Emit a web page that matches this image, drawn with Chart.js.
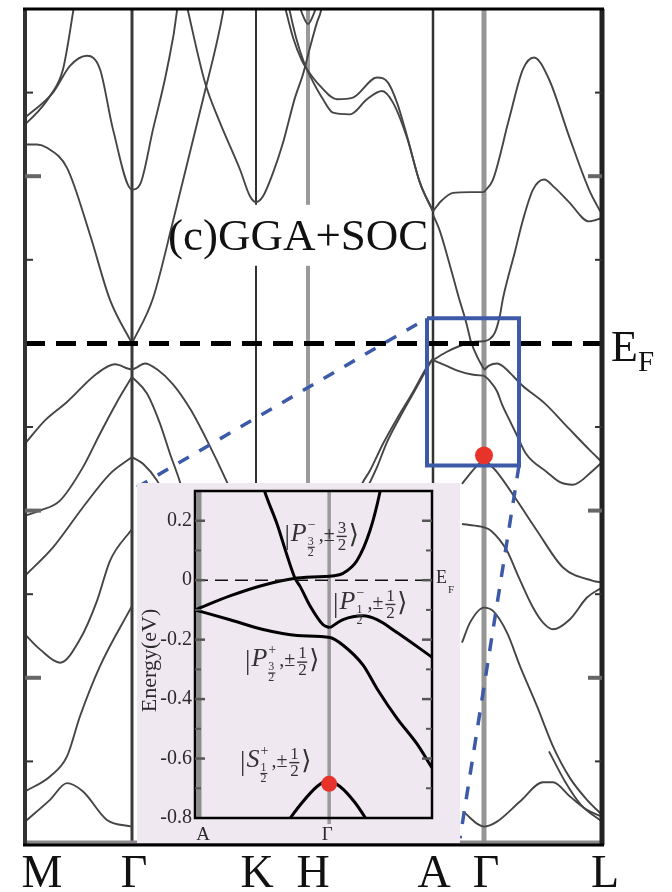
<!DOCTYPE html>
<html>
<head>
<meta charset="utf-8">
<script src="https://cdn.jsdelivr.net/npm/chart.js@4.4.1/dist/chart.umd.min.js"></script>
<style>
body { margin: 0; background: #fff; }
#wrap { position: relative; width: 672px; height: 892px; }
#main { position: absolute; left: 0; top: 0; }
#inset { position: absolute; left: 137px; top: 483px; }
</style>
</head>
<body>
<div id="wrap">
  <canvas id="main" width="672" height="892"></canvas>
  <canvas id="inset" width="323" height="360"></canvas>
</div>
<script>
// ---- main panel data (k along the path, energy in eV) ----
const kPoints = [0, 1.07, 2.31, 2.83, 4.08, 4.59, 5.77];
const kLabels = ['M', 'Γ', 'K', 'H', 'A', 'Γ', 'L'];
const kLabelAt = [0.17, 1.09, 2.32, 2.88, 4.09, 4.61, 5.80];
const mainMajorTicks = [1, -1, -2];
const mainMinorTicks = [1.5, 0.5, -0.5, -1.5, -2.5];

// M -> Γ (bands that turn smoothly at Γ continue into Γ -> K)
const bandsMG = [
  [[0, 1.31], [0.12, 1.38], [0.25, 1.48], [0.38, 1.64], [0.48, 1.98], [0.50, 2.06]],
  [[0, 1.35], [0.28, 1.50], [0.45, 1.66], [0.62, 1.72], [0.75, 1.64], [0.88, 1.28], [1.07, 0.92], [1.15, 0.95], [1.28, 1.28], [1.42, 1.64], [1.52, 1.99], [1.53, 2.06]],
  [[0, 1.19], [0.12, 1.19], [0.22, 1.17], [0.42, 1.05], [0.65, 0.65], [0.85, 0.26], [1.07, 0]],
  [[0, -0.60], [0.20, -0.46], [0.42, -0.35], [0.72, -0.18], [0.90, -0.125], [1.07, -0.155], [1.20, -0.12], [1.32, -0.155], [1.48, -0.245], [1.65, -0.39], [1.82, -0.58], [2.02, -0.83], [2.10, -0.94]],
  [[0, -1.03], [0.15, -1.0], [0.35, -0.94], [0.58, -0.74], [0.75, -0.54], [0.92, -0.35], [1.07, -0.20]],
  [[0, -1.39], [0.28, -1.22], [0.58, -0.98], [0.85, -0.78], [1.07, -0.68]],
  [[0, -1.74], [0.15, -1.83], [0.35, -1.91], [0.55, -1.77], [0.72, -1.54], [0.85, -1.30], [1.07, -1.11]],
  [[0, -2.68], [0.25, -2.59], [0.42, -2.47], [0.55, -2.23], [0.75, -1.93], [1.07, -1.57]],
  [[0, -2.86], [0.25, -2.73], [0.42, -2.63], [0.58, -2.68], [0.82, -2.85], [1.07, -2.89]]
];

// Γ -> K -> H
const bandsGK = [
  [[1.07, 0], [1.28, 0.27], [1.48, 0.73], [1.78, 1.46], [1.98, 1.98], [2.0, 2.06]],
  [[1.61, 2.04], [1.80, 1.56], [1.95, 1.32], [2.15, 1.04], [2.25, 0.88], [2.31, 0.845], [2.38, 0.88], [2.48, 1.02], [2.58, 1.20], [2.70, 1.47], [2.78, 1.61], [2.85, 1.77], [2.92, 1.92], [2.96, 1.99], [2.98, 2.06]],
  [[1.07, -0.20], [1.22, -0.30], [1.35, -0.48], [1.45, -0.66], [1.55, -0.83], [1.60, -0.94]],
  [[1.07, -0.68], [1.18, -0.72], [1.32, -0.82], [1.40, -0.91]]
];

// H -> A
const bandsHA = [
  [[2.58, 2.06], [2.68, 1.83], [2.77, 1.69], [2.82, 1.64], [2.95, 1.54], [3.12, 1.46], [3.28, 1.47], [3.52, 1.59], [3.63, 1.56], [3.72, 1.44], [3.82, 1.24], [3.95, 0.96], [4.08, 0.79]],
  [[2.62, 2.06], [2.71, 1.83], [2.79, 1.68], [2.85, 1.60], [2.98, 1.46], [3.08, 1.38], [3.25, 1.37], [3.42, 1.46], [3.57, 1.51], [3.68, 1.44], [3.82, 1.23], [3.95, 0.96], [4.08, 0.79]],
  [[2.72, 2.06], [2.78, 1.96], [2.83, 1.91], [2.88, 1.96], [2.94, 2.06]],
  [[3.30, -0.94], [3.37, -0.84], [3.45, -0.76], [3.58, -0.60], [3.72, -0.45], [3.88, -0.29], [4.02, -0.14], [4.08, -0.09]],
  [[3.36, -0.94], [3.45, -0.83], [3.52, -0.74], [3.62, -0.59], [3.75, -0.44], [3.90, -0.28], [4.02, -0.15], [4.08, -0.09]]
];

// A -> Γ
const bandsAG = [
  [[4.08, 0.79], [4.16, 0.85], [4.28, 0.90], [4.45, 0.905], [4.59, 0.905]],
  [[4.08, 0.77], [4.15, 0.67], [4.21, 0.55], [4.28, 0.40], [4.34, 0.27], [4.41, 0.13], [4.46, 0.01], [4.53, -0.09], [4.59, -0.155]],
  [[4.08, -0.10], [4.21, -0.053], [4.34, -0.017], [4.47, 0.007], [4.59, 0.013]],
  [[4.08, -0.10], [4.21, -0.133], [4.34, -0.166], [4.47, -0.186], [4.59, -0.193]],
  [[4.37, -0.84], [4.50, -0.745], [4.59, -0.69]]
];

// Γ -> L (lower bands start a little left of Γ)
const bandsGL = [
  [[4.59, 0.905], [4.68, 0.98], [4.84, 1.34], [4.98, 1.64], [5.09, 1.71], [5.24, 1.58], [5.44, 1.24], [5.64, 0.92], [5.77, 0.77]],
  [[4.59, 0.013], [4.64, 0.023], [4.70, 0.066], [4.75, 0.17], [4.78, 0.27], [4.90, 0.55], [4.98, 0.74], [5.08, 0.92], [5.19, 0.98], [5.30, 0.93], [5.44, 0.845], [5.64, 0.73], [5.77, 0.75]],
  [[4.59, -0.16], [4.64, -0.133], [4.72, -0.12], [4.77, -0.133], [4.85, -0.176], [4.97, -0.25], [5.20, -0.36], [5.44, -0.51], [5.65, -0.64], [5.77, -0.71]],
  [[4.59, -0.193], [4.64, -0.219], [4.72, -0.286], [4.77, -0.365], [4.85, -0.465], [4.92, -0.551], [5.01, -0.66], [5.22, -0.77], [5.35, -0.83], [5.48, -0.845], [5.68, -0.76], [5.77, -0.71]],
  [[4.59, -0.69], [4.72, -0.77], [4.92, -0.94], [5.12, -1.12], [5.38, -1.34], [5.68, -1.42], [5.77, -1.43]],
  [[4.37, -1.08], [4.50, -1.09], [4.59, -1.10], [4.66, -1.12], [4.82, -1.24], [4.92, -1.375], [5.08, -1.58], [5.18, -1.67], [5.28, -1.71], [5.45, -1.65], [5.62, -1.52], [5.77, -1.46]],
  [[4.37, -1.79], [4.45, -1.67], [4.59, -1.58], [4.68, -1.60], [4.82, -1.73], [4.95, -1.93], [5.12, -2.17], [5.28, -2.41], [5.45, -2.60], [5.62, -2.73], [5.77, -2.82]],
  [[5.24, -2.44], [5.40, -2.62], [5.56, -2.76], [5.77, -2.86]],
  [[4.38, -2.80], [4.59, -2.89], [4.72, -2.86], [4.95, -2.74], [5.18, -2.625], [5.28, -2.625], [5.45, -2.71], [5.62, -2.79], [5.77, -2.83]]
];

const bottomBand = [[0, -2.985], [5.77, -2.985]];
const fermiLine = [[0, 0], [5.77, 0]];
const zoomBox = [[4.02, 0.15], [4.94, 0.15], [4.94, -0.73], [4.02, -0.73], [4.02, 0.15]];
const guideLeft = [[1.12, -0.86], [4.02, 0.15]];
const guideRight = [[4.94, -0.73], [4.35, -2.96]];
const mainDot = [[4.59, -0.67]];

// ---- inset data ----
const insetKPoints = [4.08, 4.59];
const insetKLabels = ['A', 'Γ'];
const insetMajorTicks = [0.2, 0, -0.2, -0.4, -0.6];
const insetMinorTicks = [0.1, -0.1, -0.3, -0.5, -0.7];
const insetTickValues = [0.2, 0, -0.2, -0.4, -0.6, -0.8];
const insetTickLabels = ['0.2', '0', '-0.2', '-0.4', '-0.6', '-0.8'];

const insetBands = [
  [[4.335, 0.33], [4.346, 0.296], [4.392, 0.189], [4.43, 0.083], [4.46, 0.007], [4.479, -0.02], [4.517, -0.086], [4.567, -0.15], [4.593, -0.16]],
  [[4.593, -0.16], [4.643, -0.133], [4.719, -0.12], [4.772, -0.133], [4.848, -0.176], [4.981, -0.259]],
  [[4.593, 0.013], [4.643, 0.023], [4.696, 0.066], [4.745, 0.166], [4.783, 0.296], [4.79, 0.33]],
  [[4.08, -0.10], [4.213, -0.053], [4.339, -0.017], [4.468, 0.007], [4.593, 0.013]],
  [[4.08, -0.10], [4.213, -0.133], [4.339, -0.166], [4.468, -0.186], [4.593, -0.193], [4.643, -0.219], [4.719, -0.286], [4.772, -0.365], [4.848, -0.465], [4.924, -0.551], [4.981, -0.631]],
  [[4.41, -0.84], [4.479, -0.757], [4.544, -0.694], [4.586, -0.674], [4.631, -0.694], [4.688, -0.748], [4.75, -0.83]]
];
const insetFermi = [[4.08, 0], [4.981, 0]];
const insetDot = [[4.59, -0.685]];

// state labels |X^p_{j/2}, ±m/2>
const ketTexts = [
  { s: 'P', p: '−', j: '3', m: '3' },
  { s: 'P', p: '−', j: '1', m: '1' },
  { s: 'P', p: '+', j: '3', m: '1' },
  { s: 'S', p: '+', j: '1', m: '1' }
];
const ketAnchors = [[4.42, 0.153], [4.605, -0.076], [4.27, -0.27], [4.251, -0.608]];

const SERIF = "'Liberation Serif', 'DejaVu Serif', serif";
const symColor = ['#333', '#3a3a3a', '#333', '#9a9a9a', '#333', '#969696', '#222'];
const symWidth = [4, 3, 2, 4, 2.5, 5, 5];

function toXY(pts) {
  return pts.map(p => ({ x: p[0], y: p[1] }));
}

function bandSet(list, color, width, order) {
  return list.map(pts => ({
    data: toXY(pts),
    borderColor: color,
    borderWidth: width,
    pointRadius: 0,
    cubicInterpolationMode: 'monotone',
    fill: false,
    order: order
  }));
}

function plainLine(pts, color, width, dash, order) {
  return {
    data: toXY(pts),
    borderColor: color,
    borderWidth: width,
    borderDash: dash || [],
    borderCapStyle: 'butt',
    borderJoinStyle: 'miter',
    pointRadius: 0,
    tension: 0,
    fill: false,
    order: order
  };
}

function dot(pts, r, order) {
  return {
    data: toXY(pts),
    showLine: false,
    pointRadius: r,
    pointBackgroundColor: '#e8332b',
    pointBorderWidth: 0,
    order: order
  };
}

const mainDecor = {
  id: 'mainDecor',
  beforeDatasetsDraw(chart) {
    const { ctx, chartArea: a, scales: { x, y } } = chart;
    ctx.save();
    for (let i = 1; i < kPoints.length - 1; i++) {
      const px = x.getPixelForValue(kPoints[i]);
      ctx.strokeStyle = symColor[i];
      ctx.lineWidth = symWidth[i];
      ctx.beginPath();
      ctx.moveTo(px, a.top);
      ctx.lineTo(px, a.bottom);
      ctx.stroke();
    }
    // white patch behind the panel title
    const tx = x.getPixelForValue(1.43);
    const ty = y.getPixelForValue(0.56);
    ctx.fillStyle = '#fff';
    ctx.fillRect(tx + 7, ty - 45, 255, 61);
    ctx.restore();
  },
  afterDatasetsDraw(chart) {
    const { ctx, chartArea: a, scales: { x, y } } = chart;
    ctx.save();
    // frame
    ctx.strokeStyle = symColor[0];
    ctx.lineWidth = symWidth[0];
    ctx.beginPath(); ctx.moveTo(a.left, a.top); ctx.lineTo(a.left, a.bottom); ctx.stroke();
    ctx.strokeStyle = symColor[6];
    ctx.lineWidth = symWidth[6];
    ctx.beginPath(); ctx.moveTo(a.right, a.top); ctx.lineTo(a.right, a.bottom); ctx.stroke();
    ctx.strokeStyle = '#000';
    ctx.lineWidth = 3;
    ctx.beginPath(); ctx.moveTo(a.left - 2, a.top); ctx.lineTo(a.right + 2, a.top); ctx.stroke();
    ctx.beginPath(); ctx.moveTo(a.left - 2, a.bottom); ctx.lineTo(a.right + 2, a.bottom); ctx.stroke();

    // inward energy ticks on both sides
    mainMajorTicks.forEach(v => {
      const py = y.getPixelForValue(v);
      ctx.strokeStyle = '#666';
      ctx.lineWidth = 4;
      ctx.beginPath(); ctx.moveTo(a.left, py); ctx.lineTo(a.left + 16, py); ctx.stroke();
      ctx.beginPath(); ctx.moveTo(a.right, py); ctx.lineTo(a.right - 14, py); ctx.stroke();
    });
    mainMinorTicks.forEach(v => {
      const py = y.getPixelForValue(v);
      ctx.strokeStyle = '#333';
      ctx.lineWidth = 2;
      ctx.beginPath(); ctx.moveTo(a.left, py); ctx.lineTo(a.left + 8, py); ctx.stroke();
      ctx.beginPath(); ctx.moveTo(a.right, py); ctx.lineTo(a.right - 7, py); ctx.stroke();
    });

    // k-point labels
    ctx.fillStyle = '#111';
    ctx.font = `46px ${SERIF}`;
    ctx.textAlign = 'center';
    ctx.textBaseline = 'alphabetic';
    kLabels.forEach((lab, i) => {
      ctx.fillText(lab, x.getPixelForValue(kLabelAt[i]), a.bottom + 42);
    });

    // title
    ctx.textAlign = 'left';
    ctx.font = `45px ${SERIF}`;
    ctx.fillText('(c)GGA+SOC', x.getPixelForValue(1.43), y.getPixelForValue(0.56));

    // Fermi level label
    const fy = y.getPixelForValue(0);
    ctx.font = `44px ${SERIF}`;
    ctx.fillText('E', a.right + 9, fy + 18);
    ctx.font = `29px ${SERIF}`;
    ctx.fillText('F', a.right + 36, fy + 28);
    ctx.restore();
  }
};

new Chart(document.getElementById('main'), {
  type: 'line',
  data: {
    datasets: [
      ...bandSet([...bandsMG, ...bandsGK, ...bandsHA, ...bandsAG, ...bandsGL], '#454545', 1.9, 10),
      plainLine(bottomBand, '#8a8a8a', 4, null, 9),
      plainLine(fermiLine, '#000', 5, [20, 11], 5),
      plainLine(zoomBox, '#3d5aa9', 4, null, 3),
      plainLine(guideLeft, '#3d5aa9', 3.5, [12, 12], 3),
      plainLine(guideRight, '#3d5aa9', 3.5, [13, 12], 3),
      dot(mainDot, 9, 1)
    ]
  },
  options: {
    responsive: false,
    animation: false,
    devicePixelRatio: 1,
    events: [],
    layout: { padding: { left: 25, right: 70, top: 7, bottom: 47 } },
    scales: {
      x: { type: 'linear', min: 0, max: 5.77, display: false },
      y: { type: 'linear', min: -3, max: 2, display: false }
    },
    plugins: { legend: { display: false }, tooltip: { enabled: false } }
  },
  plugins: [mainDecor]
});

function drawKet(ctx, x0, yc, t) {
  const base = yc + 6;
  let x = x0;
  ctx.fillStyle = '#333';
  ctx.textAlign = 'left';
  ctx.textBaseline = 'alphabetic';
  ctx.font = `27px ${SERIF}`;
  ctx.fillText('|', x, base + 3);
  x += ctx.measureText('|').width + 1;
  ctx.font = `italic 26px ${SERIF}`;
  ctx.fillText(t.s, x, base);
  x += ctx.measureText(t.s).width;
  ctx.font = `14px ${SERIF}`;
  ctx.fillText(t.p, x + 1, base - 12);
  ctx.font = `12px ${SERIF}`;
  ctx.fillText(t.j, x + 1, base + 4);
  ctx.fillRect(x + 1, base + 6, 7, 1.2);
  ctx.fillText('2', x + 1, base + 15);
  x += 12;
  ctx.font = `20px ${SERIF}`;
  ctx.fillText(',±', x, base);
  x += ctx.measureText(',±').width + 2;
  ctx.font = `17px ${SERIF}`;
  ctx.fillText(t.m, x + 1, base - 8);
  ctx.fillRect(x, base - 5, 10, 1.4);
  ctx.fillText('2', x + 1, base + 9);
  x += 12;
  ctx.font = "26px 'DejaVu Serif', serif";
  ctx.fillText('⟩', x, base + 2);
}

const insetDecor = {
  id: 'insetDecor',
  beforeDraw(chart) {
    const { ctx, width, height } = chart;
    ctx.save();
    ctx.fillStyle = '#f0e8f1';
    ctx.fillRect(0, 0, width, height);
    ctx.restore();
  },
  beforeDatasetsDraw(chart) {
    const { ctx, chartArea: a, scales: { x } } = chart;
    ctx.save();
    ctx.strokeStyle = '#8c8c8c';
    ctx.lineWidth = 5;
    const ax = x.getPixelForValue(insetKPoints[0]);
    ctx.beginPath(); ctx.moveTo(ax + 4, a.top); ctx.lineTo(ax + 4, a.bottom); ctx.stroke();
    ctx.strokeStyle = '#9a9a9a';
    ctx.lineWidth = 3.5;
    const gx = x.getPixelForValue(insetKPoints[1]);
    ctx.beginPath(); ctx.moveTo(gx, a.top); ctx.lineTo(gx, a.bottom + 6); ctx.stroke();
    ctx.restore();
  },
  afterDatasetsDraw(chart) {
    const { ctx, chartArea: a, scales: { x, y } } = chart;
    ctx.save();
    ctx.strokeStyle = '#000';
    ctx.lineWidth = 2.5;
    ctx.strokeRect(a.left, a.top, a.right - a.left, a.bottom - a.top);

    ctx.strokeStyle = '#555';
    insetMajorTicks.forEach(v => {
      const py = y.getPixelForValue(v);
      ctx.lineWidth = 2.5;
      ctx.beginPath(); ctx.moveTo(a.left, py); ctx.lineTo(a.left + 10, py); ctx.stroke();
      ctx.beginPath(); ctx.moveTo(a.right, py); ctx.lineTo(a.right - 10, py); ctx.stroke();
    });
    insetMinorTicks.forEach(v => {
      const py = y.getPixelForValue(v);
      ctx.lineWidth = 2;
      ctx.beginPath(); ctx.moveTo(a.left, py); ctx.lineTo(a.left + 6, py); ctx.stroke();
      ctx.beginPath(); ctx.moveTo(a.right, py); ctx.lineTo(a.right - 6, py); ctx.stroke();
    });

    ctx.fillStyle = '#2a2a2a';
    ctx.font = `20px ${SERIF}`;
    ctx.textAlign = 'right';
    ctx.textBaseline = 'middle';
    insetTickValues.forEach((v, i) => {
      ctx.fillText(insetTickLabels[i], a.left - 3, y.getPixelForValue(v));
    });

    ctx.textAlign = 'center';
    ctx.textBaseline = 'alphabetic';
    ctx.font = `19px ${SERIF}`;
    insetKLabels.forEach((lab, i) => {
      ctx.fillText(lab, x.getPixelForValue(insetKPoints[i]) + (i === 0 ? 8 : -2), a.bottom + 22);
    });

    // axis title
    ctx.save();
    ctx.translate(13, y.getPixelForValue(-0.27));
    ctx.rotate(-Math.PI / 2);
    ctx.textBaseline = 'middle';
    ctx.font = `22px ${SERIF}`;
    ctx.fillText('Energy(eV)', 0, 0);
    ctx.restore();

    // Fermi label
    const fy = y.getPixelForValue(0);
    ctx.textAlign = 'left';
    ctx.font = `18px ${SERIF}`;
    ctx.fillText('E', a.right + 4, fy + 3);
    ctx.font = `11px ${SERIF}`;
    ctx.fillText('F', a.right + 16, fy + 13);

    ketAnchors.forEach((p, i) => {
      drawKet(ctx, x.getPixelForValue(p[0]), y.getPixelForValue(p[1]), ketTexts[i]);
    });
    ctx.restore();
  }
};

new Chart(document.getElementById('inset'), {
  type: 'line',
  data: {
    datasets: [
      ...bandSet(insetBands, '#000', 3, 10),
      plainLine(insetFermi, '#111', 1.5, [13, 7], 5),
      dot(insetDot, 8, 1)
    ]
  },
  options: {
    responsive: false,
    animation: false,
    devicePixelRatio: 1,
    events: [],
    layout: { padding: { left: 58, right: 28, top: 4, bottom: 25 } },
    scales: {
      x: { type: 'linear', min: 4.08, max: 4.981, display: false },
      y: { type: 'linear', min: -0.8, max: 0.3, display: false }
    },
    plugins: { legend: { display: false }, tooltip: { enabled: false } }
  },
  plugins: [insetDecor]
});
</script>
</body>
</html>
